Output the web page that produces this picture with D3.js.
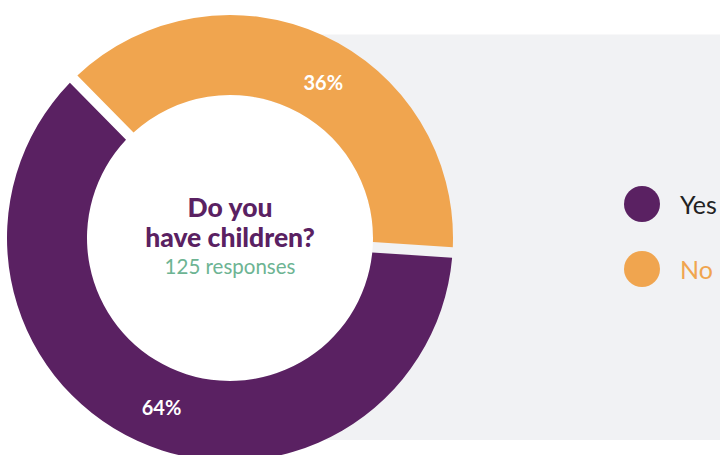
<!DOCTYPE html>
<html>
<head>
<meta charset="utf-8">
<script src="https://cdn.jsdelivr.net/npm/d3@7"></script>
<style>
  body { margin: 0; background: #fff; }
  svg { display: block; }
</style>
</head>
<body>
<svg id="chart"></svg>
<script>
// survey answers (counts out of 125)
const answers = ["Yes", "No"];
const counts = [77, 48];
const shareLabels = ["64%", "36%"];
const colors = ["#5a2162", "#f0a54f"];
const legendTextColors = ["#222222", "#f0a54f"];

const width = 720;
const height = 455;
const cx = 230;
const cy = 238;
const outerR = 223;
const innerR = 143;

const svg = d3.select("#chart").attr("width", width).attr("height", height);

// grey panel behind the right half
svg.append("rect")
    .attr("x", cx)
    .attr("y", 34.5)
    .attr("width", width - cx)
    .attr("height", 405.5)
    .attr("fill", "#f1f2f4");

const g = svg.append("g").attr("transform", `translate(${cx},${cy})`);

// white hole of the donut
g.append("circle").attr("r", innerR).attr("fill", "#fff");

const data = answers.map((a, i) => ({ answer: a, count: counts[i], label: shareLabels[i], color: colors[i] }));

const startAngle = 93.7 * Math.PI / 180;
const pie = d3.pie()
    .sort(null)
    .value(d => d.count)
    .startAngle(startAngle)
    .endAngle(startAngle + 2 * Math.PI);

const arc = d3.arc()
    .innerRadius(innerR)
    .outerRadius(outerR)
    .padAngle(10.5 / outerR)
    .padRadius(outerR);

const arcs = pie(data);

g.selectAll("path.slice")
    .data(arcs)
    .join("path")
    .attr("class", "slice")
    .attr("d", arc)
    .attr("fill", d => d.data.color);

// percentage labels, nudged a little along the ring
const labelNudge = [-0.043, 0.109];
const labelR = 182;
g.selectAll("text.pct")
    .data(arcs)
    .join("text")
    .attr("class", "pct")
    .attr("x", (d, i) => labelR * Math.sin((d.startAngle + d.endAngle) / 2 + labelNudge[i]))
    .attr("y", (d, i) => -labelR * Math.cos((d.startAngle + d.endAngle) / 2 + labelNudge[i]))
    .attr("text-anchor", "middle")
    .attr("dominant-baseline", "central")
    .style("font-family", "Lato, 'Noto Sans', sans-serif")
    .style("font-weight", "bold")
    .style("font-size", "20px")
    .style("fill", "#fff")
    .text(d => d.data.label);

// centre title
const title = ["Do you", "have children?"];
g.selectAll("text.title")
    .data(title)
    .join("text")
    .attr("class", "title")
    .attr("x", 0)
    .attr("y", (d, i) => -21 + i * 30)
    .attr("text-anchor", "middle")
    .style("font-family", "Lato, 'Noto Sans', sans-serif")
    .style("font-weight", "900")
    .style("font-size", "26.5px")
    .style("fill", "#5a2162")
    .text(d => d);

g.append("text")
    .attr("x", 0)
    .attr("y", 36)
    .attr("text-anchor", "middle")
    .style("font-family", "Lato, 'Noto Sans', sans-serif")
    .style("font-size", "20.5px")
    .style("fill", "#6db493")
    .text(`${d3.sum(counts)} responses`);

// legend
const legend = svg.append("g").attr("transform", "translate(642,204)");
const item = legend.selectAll("g")
    .data(data)
    .join("g")
    .attr("transform", (d, i) => `translate(0,${i * 65})`);

item.append("circle")
    .attr("r", 18)
    .attr("fill", d => d.color);

item.append("text")
    .attr("x", 38)
    .attr("dominant-baseline", "central")
    .style("font-family", "Lato, 'Noto Sans', sans-serif")
    .style("font-size", "25px")
    .style("fill", (d, i) => legendTextColors[i])
    .text(d => d.answer);
</script>
</body>
</html>
